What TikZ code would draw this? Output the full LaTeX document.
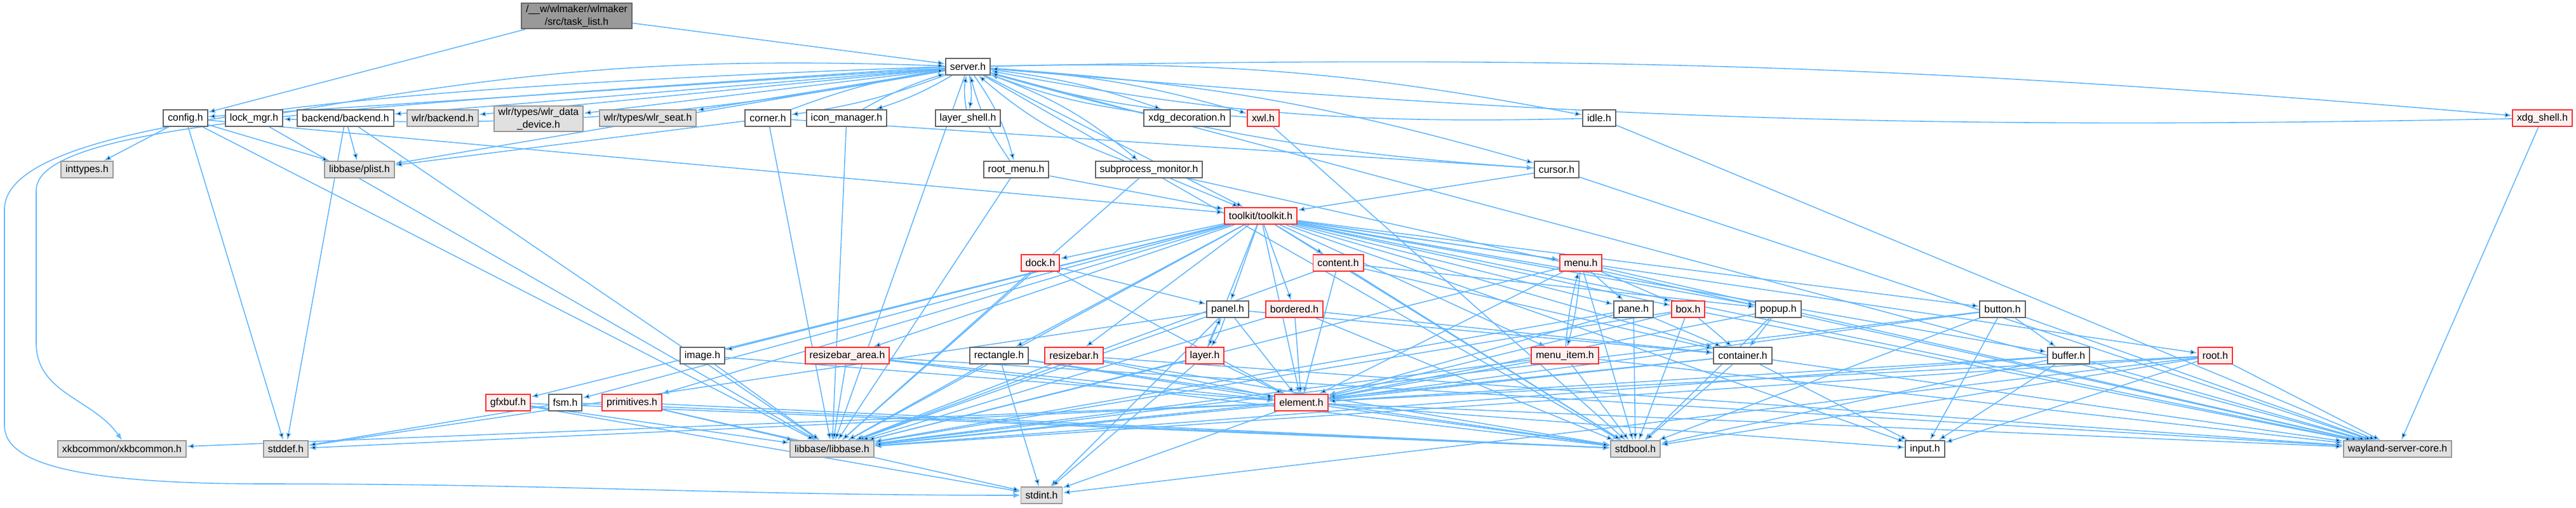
\documentclass[tikz,border=0pt]{standalone}
\usepackage{fontspec}
\setmainfont{Liberation Sans}
\usetikzlibrary{arrows.meta,backgrounds}

\definecolor{edgeblue}{HTML}{63B8FF}
\definecolor{sysfill}{HTML}{E0E0E0}
\definecolor{sysline}{HTML}{999999}
\definecolor{redfill}{HTML}{FFF0F0}
\definecolor{redline}{HTML}{FF3030}
\definecolor{topfill}{HTML}{999999}

\tikzset{
	hdr/.style={rectangle, line width=0.55pt, minimum height=0.26cm, inner xsep=0.07cm, inner ysep=0.03cm, align=center, font=\fontsize{4.5}{5.6}\selectfont},
	file/.style={hdr, draw=black!60, fill=white},
	sysfile/.style={hdr, draw=sysline, fill=sysfill},
	redfile/.style={hdr, draw=redline, fill=redfill},
	topfile/.style={hdr, draw=black!60, fill=topfill},
	dep/.style={draw=edgeblue, line width=0.45pt, -{Latex[length=1.1mm,width=0.85mm]}}
}

\begin{document}
\begin{tikzpicture}
	\useasboundingbox (0,0) rectangle (40.56,-7.99);

	% Nodes
	\node[topfile] (tasklist) at (9.08,-0.25) {/\_\_w/wlmaker/wlmaker\\/src/task\_list.h};
	\node[file] (server) at (15.24,-1.05) {server.h};

	\node[file] (config) at (2.92,-1.86) {config.h};
	\node[file] (lockmgr) at (4.00,-1.86) {lock\_mgr.h};
	\node[file] (backend) at (5.44,-1.86) {backend/backend.h};
	\node[sysfile] (wlrbackend) at (6.97,-1.86) {wlr/backend.h};
	\node[sysfile] (datadev) at (8.48,-1.87) {wlr/types/wlr\_data\\\_device.h};
	\node[sysfile] (seat) at (10.20,-1.86) {wlr/types/wlr\_seat.h};
	\node[file] (corner) at (12.09,-1.86) {corner.h};
	\node[file] (iconmgr) at (13.33,-1.86) {icon\_manager.h};
	\node[file] (layershell) at (15.24,-1.86) {layer\_shell.h};
	\node[file] (xdgdeco) at (18.69,-1.86) {xdg\_decoration.h};
	\node[redfile] (xwl) at (19.89,-1.86) {xwl.h};
	\node[file] (idle) at (25.18,-1.86) {idle.h};
	\node[redfile] (xdgshell) at (40.03,-1.86) {xdg\_shell.h};

	\node[sysfile] (inttypes) at (1.37,-2.67) {inttypes.h};
	\node[sysfile] (plist) at (5.66,-2.67) {libbase/plist.h};
	\node[file] (rootmenu) at (16.00,-2.67) {root\_menu.h};
	\node[file] (subproc) at (18.09,-2.67) {subprocess\_monitor.h};
	\node[file] (cursor) at (24.51,-2.67) {cursor.h};

	\node[redfile] (toolkit) at (19.85,-3.40) {toolkit/toolkit.h};

	\node[redfile] (dock) at (16.38,-4.14) {dock.h};
	\node[redfile] (content) at (21.07,-4.14) {content.h};
	\node[redfile] (menu) at (24.89,-4.14) {menu.h};

	\node[file] (panel) at (19.33,-4.87) {panel.h};
	\node[redfile] (bordered) at (20.38,-4.87) {bordered.h};
	\node[file] (pane) at (25.72,-4.87) {pane.h};
	\node[redfile] (box) at (26.58,-4.87) {box.h};
	\node[file] (popup) at (28.00,-4.87) {popup.h};
	\node[file] (button) at (31.53,-4.87) {button.h};

	\node[file] (image) at (11.06,-5.60) {image.h};
	\node[redfile] (rbarea) at (13.34,-5.60) {resizebar\_area.h};
	\node[file] (rectangle) at (15.73,-5.60) {rectangle.h};
	\node[redfile] (resizebar) at (16.91,-5.60) {resizebar.h};
	\node[redfile] (layer) at (18.97,-5.60) {layer.h};
	\node[redfile] (menuitem) at (24.64,-5.60) {menu\_item.h};
	\node[file] (container) at (27.44,-5.60) {container.h};
	\node[file] (buffer) at (32.57,-5.60) {buffer.h};
	\node[redfile] (root) at (34.88,-5.60) {root.h};

	\node[redfile] (gfxbuf) at (8.00,-6.34) {gfxbuf.h};
	\node[file] (fsm) at (8.90,-6.34) {fsm.h};
	\node[redfile] (primitives) at (9.95,-6.34) {primitives.h};
	\node[redfile] (element) at (20.49,-6.34) {element.h};

	\node[sysfile] (xkb) at (1.92,-7.07) {xkbcommon/xkbcommon.h};
	\node[sysfile] (stddef) at (4.50,-7.07) {stddef.h};
	\node[sysfile] (libbase) at (13.10,-7.07) {libbase/libbase.h};
	\node[sysfile] (stdbool) at (25.75,-7.07) {stdbool.h};
	\node[file] (input) at (30.31,-7.07) {input.h};
	\node[sysfile] (wsc) at (37.75,-7.07) {wayland-server-core.h};

	\node[sysfile] (stdint) at (16.40,-7.80) {stdint.h};

	% Directed edges
	\begin{scope}[on background layer]
	\draw[dep] (tasklist) edge (server) edge (config);
	\draw[dep] (server) edge (config) edge (backend) edge (wlrbackend) edge (datadev) edge (seat)
		edge (toolkit) edge (wsc) edge (libbase) edge (plist) edge (stdbool);
	\draw[dep] (server) edge[bend left=6] (lockmgr) edge[bend left=6] (corner) edge[bend left=6] (iconmgr)
		edge[bend left=10] (layershell) edge[bend left=6] (xdgdeco) edge[bend left=6] (xwl)
		edge[bend left=6] (idle) edge[bend left=6] (cursor) edge[bend left=3] (xdgshell)
		edge[bend left=10] (rootmenu) edge[bend left=10] (subproc);
	\draw[dep] (server.west) to[out=184,in=90,out distance=9cm,in distance=1.1cm] (0.57,-3.0)
		-- (0.57,-5.4) to[out=-90,in=125] (xkb.north);
	\draw[dep] (server.west) to[out=182,in=90,out distance=10cm,in distance=1.3cm] (0.07,-3.3)
		-- (0.07,-6.7) to[out=-90,in=180,out distance=0.6cm,in distance=3cm] (4.2,-7.62)
		to[out=0,in=180] (stdint.west);

	\draw[dep] (lockmgr) edge[bend left=6] (server) edge (libbase);
	\draw[dep] (config) edge (inttypes) edge (plist) edge (stddef) edge (libbase) edge (toolkit);
	\draw[dep] (backend) edge (plist) edge (stddef) edge (libbase);
	\draw[dep] (corner) edge[bend left=6] (server) edge (cursor) edge (libbase) edge (plist);
	\draw[dep] (iconmgr) edge[bend left=6] (server) edge (libbase);
	\draw[dep] (layershell) edge[bend left=10] (server);
	\draw[dep] (xdgdeco) edge[bend left=6] (server);
	\draw[dep] (xwl) edge[bend left=6] (server) edge (stdbool);
	\draw[dep] (idle) edge[bend left=6] (server) edge (wsc);
	\draw[dep] (xdgshell) edge[bend left=3] (server) edge (wsc);
	\draw[dep] (rootmenu) edge[bend left=10] (server) edge (toolkit) edge (libbase);
	\draw[dep] (subproc) edge[bend left=10] (server) edge (toolkit) edge (libbase) edge (wsc);
	\draw[dep] (cursor) edge[bend left=6] (server) edge (toolkit) edge (wsc);

	\draw[dep] (toolkit) edge (dock) edge (content) edge (menu) edge (panel) edge (bordered) edge (pane)
		edge (box) edge (popup) edge (button) edge (image) edge (rbarea) edge (rectangle)
		edge (resizebar) edge (layer) edge (menuitem) edge (container) edge (buffer) edge (root)
		edge (gfxbuf) edge (fsm) edge (primitives) edge (element) edge (libbase) edge (stdbool)
		edge (wsc) edge (input);

	\draw[dep] (dock) edge (panel) edge (element) edge (libbase);
	\draw[dep] (content) edge (element) edge (container) edge (popup) edge (libbase) edge (stdbool);
	\draw[dep] (menu) edge[bend left=5] (menuitem) edge (pane) edge (box) edge (element) edge (libbase)
		edge (stdbool) edge (wsc);
	\draw[dep] (menuitem) edge[bend left=5] (menu) edge (element) edge (stdbool) edge (libbase) edge (wsc);
	\draw[dep] (pane) edge (container) edge (element) edge (libbase) edge (stdbool);
	\draw[dep] (box) edge (container) edge (element) edge (libbase) edge (stdbool) edge (wsc);
	\draw[dep] (popup) edge (container) edge (element) edge (stdbool);
	\draw[dep] (container) edge (element) edge (stdbool) edge (libbase) edge (wsc) edge (input);
	\draw[dep] (button) edge (buffer) edge (element) edge (libbase) edge (stdbool) edge (wsc) edge (input);
	\draw[dep] (buffer) edge (element) edge (libbase) edge (stdbool) edge (wsc) edge (input);
	\draw[dep] (root) edge (element) edge (libbase) edge (stdbool) edge (input) edge (wsc) edge (stdint);
	\draw[dep] (panel) edge[bend left=8] (layer) edge (element) edge (container) edge (libbase)
		edge (stdint) edge (stddef);
	\draw[dep] (layer) edge[bend left=8] (panel) edge (element) edge (libbase) edge (stdint);
	\draw[dep] (bordered) edge (element) edge (container) edge (libbase) edge (stdbool);
	\draw[dep] (image) edge (element) edge (libbase);
	\draw[dep] (rbarea) edge (element) edge (libbase) edge (stdbool) edge (wsc);
	\draw[dep] (rectangle) edge (element) edge (libbase) edge (stdint) edge (stdbool);
	\draw[dep] (resizebar) edge (element) edge (libbase) edge (stdbool) edge (wsc);
	\draw[dep] (gfxbuf) edge (libbase) edge (stdbool) edge (stdint);
	\draw[dep] (fsm) edge (stddef) edge (stdbool);
	\draw[dep] (primitives) edge (libbase) edge (stdint) edge (stdbool);
	\draw[dep] (element) edge (libbase) edge (stdbool) edge (stdint) edge (xkb) edge (wsc)
		edge (input) edge (stddef);
	\end{scope}
\end{tikzpicture}
\end{document}
